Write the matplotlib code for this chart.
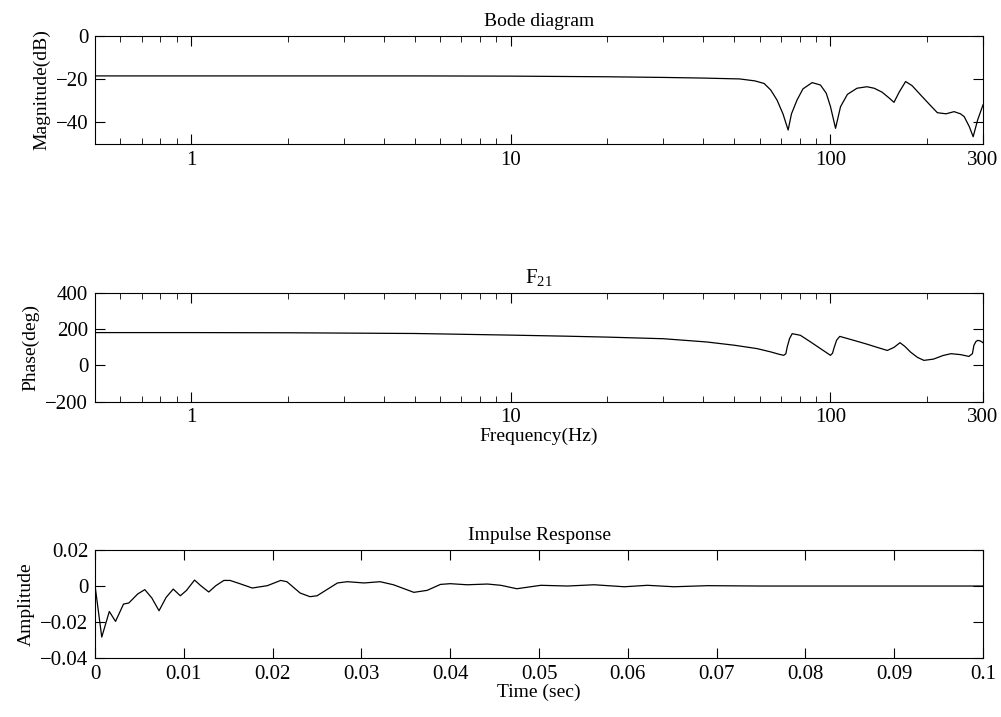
import matplotlib
matplotlib.use("Agg")
import matplotlib.pyplot as plt
from matplotlib.ticker import FixedLocator, NullFormatter

plt.rcParams['font.family'] = ['Liberation Serif', 'DejaVu Serif']
plt.rcParams['mathtext.fontset'] = 'custom'
plt.rcParams['mathtext.rm'] = 'Liberation Serif'
plt.rcParams['font.size'] = 14

# magnitude (dB) vs frequency (Hz)
freq_mag = [0.5, 1, 2, 5, 10, 20, 30, 40, 52, 58, 62, 65, 68, 71, 73.7, 75.5,
            78.6, 82, 87.6, 93, 97, 100, 103.7, 107.5, 113, 121, 130, 137, 145,
            152, 158, 164, 171.8, 180, 192, 205, 216, 230, 243.6, 255, 262, 272,
            279.5, 288.6, 300]
mag_db = [-18.5, -18.5, -18.5, -18.5, -18.6, -18.9, -19.2, -19.5, -19.9, -20.8,
          -22.0, -25.0, -29.6, -36.0, -43.5, -36.0, -29.6, -24.5, -21.6, -22.7,
          -26.5, -32.7, -42.7, -32.7, -27.0, -24.2, -23.5, -24.2, -26.0, -28.5,
          -30.7, -26.0, -21.1, -23.0, -27.5, -32.0, -35.5, -36.0, -35.0, -36.0,
          -37.3, -42.0, -46.6, -38.9, -31.9]

# phase (deg) vs frequency (Hz)
freq_ph = [0.5, 1, 2, 5, 10, 15, 20, 25, 30, 41, 50, 59, 65, 69, 71.4, 72.5,
           73.2, 74.5, 75.9, 80.5, 86, 92, 100, 101.5, 102.4, 104.5, 106.9,
           118.3, 130, 140, 150.6, 158, 165, 171, 178, 187, 196, 210, 225, 238,
           255, 271, 278, 281, 285, 289, 295, 300]
phase_deg = [182, 182, 181, 177, 168, 162, 157, 152, 148, 130, 112, 93, 75, 62,
             56, 65, 102, 150, 176, 167, 134, 99, 56, 68, 93, 140, 161, 139,
             118, 100, 83, 100, 126, 105, 74, 45, 28, 35, 55, 65, 60, 50, 65,
             111, 132, 139, 135, 126]

# impulse response
t_sec = [0, 0.00075, 0.0016, 0.0023, 0.0032, 0.0038, 0.0048, 0.0056, 0.0064,
         0.0072, 0.0080, 0.0088, 0.0096, 0.0103, 0.0112, 0.0119, 0.0128,
         0.0136, 0.0145, 0.0152, 0.0163, 0.0177, 0.0194, 0.0209, 0.0216,
         0.0231, 0.0242, 0.0250, 0.0273, 0.0284, 0.0303, 0.0321, 0.0336,
         0.0359, 0.0374, 0.0389, 0.0400, 0.0419, 0.0442, 0.0457, 0.0475,
         0.0502, 0.0532, 0.0562, 0.0596, 0.0622, 0.0652, 0.069, 0.075, 0.08,
         0.09, 0.1]
amp = [0, -0.0283, -0.0141, -0.0196, -0.0100, -0.0094, -0.0044, -0.0020,
       -0.0067, -0.0137, -0.0063, -0.0017, -0.0054, -0.0024, 0.0033, 0.0002,
       -0.0033, 0.0002, 0.0031, 0.0031, 0.0013, -0.0011, 0.0002, 0.0031,
       0.0024, -0.0039, -0.0059, -0.0054, 0.0017, 0.0024, 0.0017, 0.0024,
       0.0007, -0.0035, -0.0024, 0.0009, 0.0013, 0.0007, 0.0011, 0.0004,
       -0.0015, 0.0004, 0.0, 0.0007, -0.0004, 0.0004, -0.0004, 0.0002, 0.0,
       0.0, 0.0, 0.0]

freq_ticks = [1, 10, 100, 300]
freq_minor = [0.6, 0.7, 0.8, 0.9, 2, 3, 4, 5, 6, 7, 8, 9,
              20, 30, 40, 50, 60, 70, 80, 90, 200]

fig = plt.figure(figsize=(10.01, 7.17), dpi=100)
ax1 = fig.add_axes([0.095, 0.799, 0.887, 0.151])
ax2 = fig.add_axes([0.095, 0.440, 0.887, 0.151])
ax3 = fig.add_axes([0.095, 0.082, 0.887, 0.151])


def style(ax):
    ax.tick_params(which='both', direction='in', top=True, right=True,
                   labelsize=15, pad=5)
    ax.tick_params(which='major', length=7)
    ax.tick_params(which='minor', length=4)


def freq_axis(ax):
    ax.set_xscale('log')
    ax.set_xlim(0.5, 300)
    ax.xaxis.set_major_locator(FixedLocator(freq_ticks))
    ax.set_xticklabels([str(v) for v in freq_ticks])
    ax.xaxis.set_minor_locator(FixedLocator(freq_minor))
    ax.xaxis.set_minor_formatter(NullFormatter())


ax1.plot(freq_mag, mag_db, color='k', lw=0.9)
freq_axis(ax1)
ax1.set_ylim(-50, 0)
ax1.set_yticks([-40, -20, 0])
ax1.set_ylabel('Magnitude(dB)', labelpad=4)
ax1.set_title('Bode diagram', fontsize=14, pad=7)
style(ax1)

ax2.plot(freq_ph, phase_deg, color='k', lw=0.9)
freq_axis(ax2)
ax2.set_ylim(-200, 400)
ax2.set_yticks([-200, 0, 200, 400])
ax2.set_ylabel('Phase(deg)', labelpad=4)
ax2.set_xlabel('Frequency(Hz)', labelpad=0)
ax2.set_title(r'F$_{\mathregular{21}}$', fontsize=15, pad=7)
style(ax2)

ax3.plot(t_sec, amp, color='k', lw=0.9)
ax3.set_xlim(0, 0.1)
ax3.set_ylim(-0.04, 0.02)
ax3.set_xticks([0, 0.01, 0.02, 0.03, 0.04, 0.05, 0.06, 0.07, 0.08, 0.09, 0.1])
ax3.set_xticklabels(['0', '0.01', '0.02', '0.03', '0.04', '0.05', '0.06',
                     '0.07', '0.08', '0.09', '0.1'])
ax3.set_yticks([-0.04, -0.02, 0, 0.02])
ax3.set_yticklabels(['\u22120.04', '\u22120.02', '0', '0.02'])
ax3.set_ylabel('Amplitude', labelpad=4)
ax3.set_xlabel('Time (sec)', labelpad=0)
ax3.set_title('Impulse Response', fontsize=14, pad=7)
style(ax3)

fig.savefig('out.png', dpi=100)
